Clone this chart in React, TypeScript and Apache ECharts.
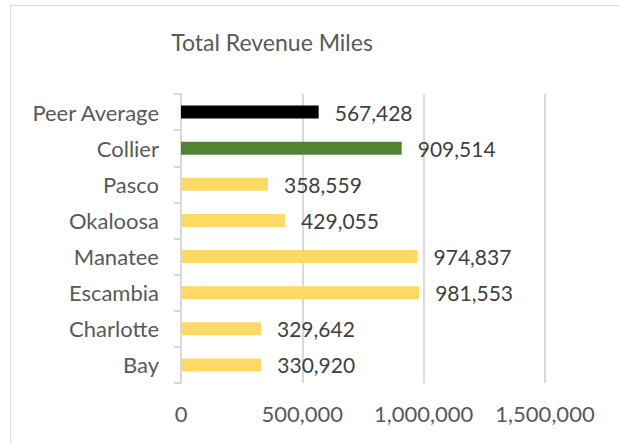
import React, { useEffect, useRef } from "react";
import * as echarts from "echarts";

const categories = ["Bay", "Charlotte", "Escambia", "Manatee", "Okaloosa", "Pasco", "Collier", "Peer Average"];
const values = [330920, 329642, 981553, 974837, 429055, 358559, 909514, 567428];
const barColors = ["#FFD966", "#FFD966", "#FFD966", "#FFD966", "#FFD966", "#FFD966", "#548235", "#000000"];
const xTicks = [0, 500000, 1000000, 1500000];

const FONT = "Lato, 'Noto Sans', sans-serif";

export default function App() {
  const ref = useRef<HTMLDivElement>(null);
  useEffect(() => {
    if (!ref.current) return;
    const chart = echarts.init(ref.current, null, { renderer: "svg" });
    chart.setOption({
      animation: false,
      backgroundColor: "#ffffff",
      title: {
        text: "Total Revenue Miles",
        left: 267,
        top: 25,
        textAlign: "center",
        textStyle: { fontFamily: FONT, fontSize: 23, fontWeight: "normal", color: "#595959" },
      },
      graphic: [
        { type: "line", shape: { x1: 10.5, y1: 5.5, x2: 619, y2: 5.5 }, style: { stroke: "#d9d9d9", lineWidth: 1 } },
        { type: "line", shape: { x1: 10.5, y1: 5.5, x2: 10.5, y2: 444 }, style: { stroke: "#d9d9d9", lineWidth: 1 } },
      ],
      grid: { left: 181, right: 74, top: 94, bottom: 61, containLabel: false },
      xAxis: {
        type: "value",
        min: 0,
        max: 1500000,
        interval: 500000,
        axisLine: { show: false },
        axisTick: { show: false },
        splitLine: { show: true, lineStyle: { color: "#d9d9d9", width: 2 } },
        axisLabel: {
          fontFamily: FONT,
          fontSize: 22,
          color: "#595959",
          margin: 19,
          formatter: (v: number) => (xTicks.includes(v) ? v.toLocaleString("en-US") : ""),
        },
      },
      yAxis: {
        type: "category",
        data: categories,
        axisLine: { show: true, lineStyle: { color: "#d9d9d9", width: 2 } },
        axisTick: { show: true, length: 7, lineStyle: { color: "#d9d9d9", width: 2 } },
        axisLabel: { fontFamily: FONT, fontSize: 22, color: "#595959", margin: 22 },
      },
      series: [
        {
          type: "bar",
          data: values.map((v, i) => ({ value: v, itemStyle: { color: barColors[i] } })),
          barWidth: 13,
          label: {
            show: true,
            position: "right",
            distance: 16,
            fontFamily: FONT,
            fontSize: 21,
            color: "#404040",
            formatter: (p: any) => Number(p.value).toLocaleString("en-US"),
          },
        },
      ],
    });
    return () => chart.dispose();
  }, []);
  return <div ref={ref} style={{ width: 619, height: 444, position: "absolute", left: 0, top: 0 }} />;
}
